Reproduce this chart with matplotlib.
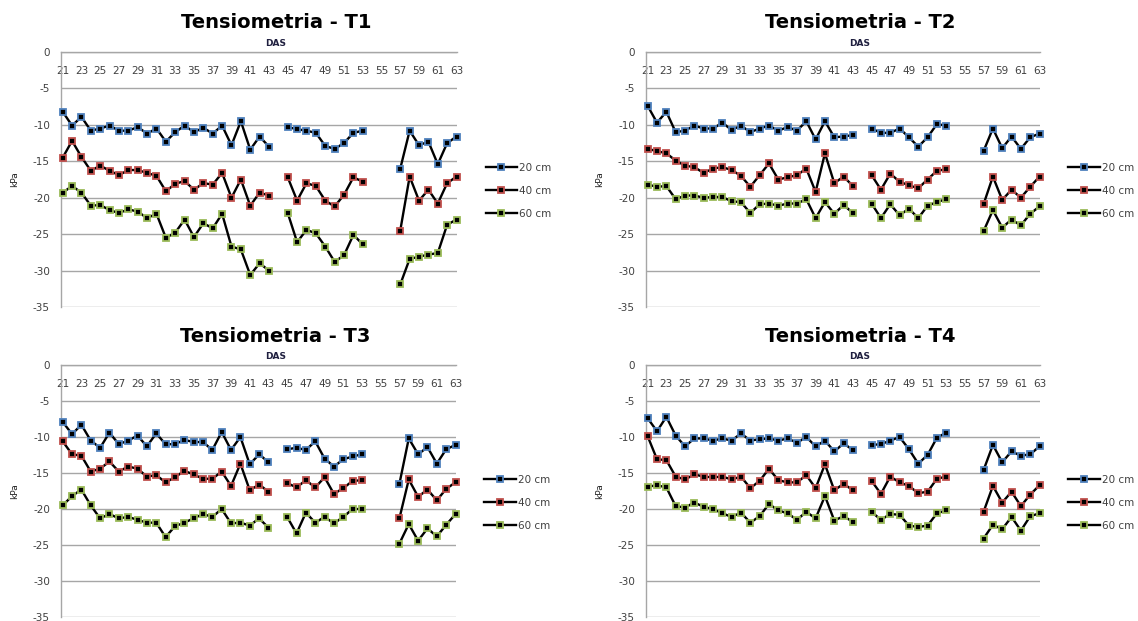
import numpy as np
import matplotlib
matplotlib.use("Agg")
import matplotlib.pyplot as plt

plt.rcParams['axes.unicode_minus'] = False

nan = np.nan

# DAS 21..63 (missing days as nan)
days = list(range(21, 64))
depths = ["20 cm", "40 cm", "60 cm"]
colors = ["#4F81BD", "#C0504D", "#9BBB59"]

t1_20 = [-8.2, -10.1, -8.9, -10.8, -10.5, -10.1, -10.8, -10.8, -10.3, -11.2, -10.5, -12.3,
         -11.0, -10.1, -11.0, -10.4, -11.2, -10.1, -12.8, -9.5, -13.4, -11.6, -13.0, nan,
         -10.3, -10.6, -10.8, -11.1, -12.9, -13.3, -12.5, -11.1, -10.8, nan, nan, nan,
         -16.0, -10.8, -12.8, -12.3, -15.4, -12.5, -11.6]
t1_40 = [-14.5, -12.2, -14.4, -16.3, -15.6, -16.3, -16.9, -16.2, -16.2, -16.6, -17.0, -19.1,
         -18.1, -17.7, -18.9, -18.0, -18.2, -16.6, -20.0, -17.5, -21.1, -19.3, -19.7, nan,
         -17.2, -20.4, -18.0, -18.4, -20.4, -21.2, -19.6, -17.2, -17.8, nan, nan, nan,
         -24.5, -17.1, -20.4, -18.9, -20.8, -18.0, -17.1]
t1_60 = [-19.3, -18.4, -19.3, -21.1, -21.0, -21.7, -22.1, -21.6, -21.9, -22.8, -22.2, -25.5,
         -24.8, -23.0, -25.4, -23.5, -24.2, -22.2, -26.7, -27.1, -30.6, -29.0, -30.0, nan,
         -22.1, -26.1, -24.4, -24.9, -26.7, -28.8, -27.9, -25.1, -26.4, nan, nan, nan,
         -31.9, -28.4, -28.1, -27.8, -27.6, -23.7, -23.0]

t2_20 = [-7.4, -9.7, -8.2, -11.0, -10.8, -10.1, -10.5, -10.5, -9.7, -10.7, -10.1, -11.0,
         -10.5, -10.1, -10.8, -10.3, -10.8, -9.5, -12.0, -9.5, -11.7, -11.6, -11.4, nan,
         -10.5, -11.1, -11.1, -10.5, -11.7, -13.0, -11.7, -9.9, -10.1, nan, nan, nan,
         -13.6, -10.5, -13.2, -11.6, -13.3, -11.7, -11.2]
t2_40 = [-13.3, -13.6, -13.9, -14.9, -15.6, -15.8, -16.6, -16.0, -15.8, -16.2, -17.0, -18.5,
         -16.9, -15.3, -17.5, -17.2, -16.9, -16.0, -19.2, -13.9, -18.0, -17.1, -18.4, nan,
         -16.9, -18.9, -16.7, -17.8, -18.3, -18.7, -17.5, -16.3, -16.1, nan, nan, nan,
         -20.9, -17.1, -20.3, -18.9, -20.0, -18.5, -17.1]
t2_60 = [-18.2, -18.5, -18.4, -20.2, -19.7, -19.7, -20.0, -19.9, -19.9, -20.5, -20.6, -22.1,
         -20.9, -20.8, -21.1, -20.8, -20.8, -20.2, -22.8, -20.6, -22.2, -21.0, -22.1, nan,
         -20.8, -22.8, -20.9, -22.4, -21.5, -22.8, -21.1, -20.6, -20.2, nan, nan, nan,
         -24.6, -21.7, -24.1, -23.0, -23.8, -22.2, -21.2]

t3_20 = [-7.9, -9.6, -8.3, -10.5, -11.5, -9.4, -11.0, -10.5, -9.8, -11.3, -9.5, -11.0,
         -11.0, -10.4, -10.7, -10.7, -11.8, -9.3, -11.8, -10.0, -13.8, -12.4, -13.5, nan,
         -11.7, -11.5, -11.8, -10.6, -13.0, -14.1, -13.1, -12.7, -12.4, nan, nan, nan,
         -16.5, -10.2, -12.4, -11.4, -13.7, -11.7, -11.1]
t3_40 = [-10.6, -12.4, -12.6, -14.8, -14.4, -13.4, -14.8, -14.1, -14.4, -15.5, -15.3, -16.3,
         -15.6, -14.7, -15.2, -15.8, -15.8, -14.8, -16.8, -13.7, -17.4, -16.6, -17.6, nan,
         -16.4, -17.0, -16.0, -17.0, -15.6, -17.9, -17.1, -16.1, -16.0, nan, nan, nan,
         -21.3, -15.9, -18.3, -17.3, -18.8, -17.2, -16.3]
t3_60 = [-19.5, -18.2, -17.3, -19.5, -21.3, -20.7, -21.3, -21.1, -21.5, -21.9, -21.9, -23.9,
         -22.4, -21.9, -21.3, -20.7, -21.1, -20.0, -22.0, -21.9, -22.3, -21.3, -22.6, nan,
         -21.1, -23.4, -20.5, -21.9, -21.1, -22.0, -21.1, -20.0, -20.0, nan, nan, nan,
         -24.8, -22.1, -24.4, -22.7, -23.8, -22.2, -20.7]

t4_20 = [-7.4, -9.2, -7.2, -9.8, -11.3, -10.2, -10.2, -10.5, -10.2, -10.5, -9.5, -10.5,
         -10.3, -10.2, -10.5, -10.2, -10.8, -10.0, -11.3, -10.5, -12.0, -10.9, -11.8, nan,
         -11.1, -11.0, -10.5, -10.0, -11.7, -13.7, -12.5, -10.1, -9.4, nan, nan, nan,
         -14.6, -11.1, -13.5, -12.0, -12.6, -12.4, -11.3]
t4_40 = [-9.9, -13.1, -13.2, -15.5, -15.9, -15.2, -15.5, -15.6, -15.5, -15.9, -15.5, -17.1,
         -16.1, -14.4, -16.0, -16.3, -16.3, -15.3, -17.1, -13.8, -17.4, -16.5, -17.4, nan,
         -16.1, -17.9, -15.5, -16.3, -16.8, -17.8, -17.6, -15.8, -15.5, nan, nan, nan,
         -20.4, -16.8, -19.1, -17.6, -19.6, -18.0, -16.7]
t4_60 = [-16.9, -16.7, -17.0, -19.6, -19.8, -19.1, -19.7, -20.0, -20.6, -21.1, -20.5, -21.9,
         -21.0, -19.3, -20.2, -20.6, -21.5, -20.4, -21.3, -18.2, -21.6, -21.0, -21.8, nan,
         -20.4, -21.5, -20.7, -20.8, -22.3, -22.5, -22.3, -20.6, -20.2, nan, nan, nan,
         -24.1, -22.2, -22.8, -21.1, -23.0, -21.0, -20.6]

titles = ["Tensiometria - T1", "Tensiometria - T2", "Tensiometria - T3", "Tensiometria - T4"]
panels = [[t1_20, t1_40, t1_60], [t2_20, t2_40, t2_60],
          [t3_20, t3_40, t3_60], [t4_20, t4_40, t4_60]]

# axes boxes in pixels: left, right, top, bottom
W, H = 1138, 621
boxes = [(61, 457, 52, 307), (646, 1040, 52, 307),
         (61, 456, 365, 617), (646, 1040, 365, 617)]

fig = plt.figure(figsize=(W / 100, H / 100), dpi=100)
grid_c = '#A6A6A6'
txt_c = '#404040'

for (l, r, t, b), title, series in zip(boxes, titles, panels):
    ax = fig.add_axes([l / W, 1 - b / H, (r - l) / W, (b - t) / H])
    for vals, lab, c in zip(series, depths, colors):
        ax.plot(days, vals, color='black', lw=1.7, marker='s', ms=5,
                mfc='black', mec=c, mew=1.3, label=lab, clip_on=False, zorder=3)

    ax.set_xlim(20.82, 63.05)
    ax.set_ylim(-35, 0)
    ax.set_yticks(range(-35, 1, 5))
    ax.set_xticks(days[::2])
    ax.xaxis.set_ticks_position('top')
    ax.tick_params(axis='x', length=0, pad=-17, labelsize=7.5, labelcolor=txt_c)
    ax.tick_params(axis='y', length=0, pad=8, labelsize=7.5, labelcolor=txt_c)
    ax.grid(axis='y', color=grid_c, lw=1)
    ax.set_axisbelow(True)
    for s in ['right', 'bottom']:
        ax.spines[s].set_visible(False)
    for s in ['left', 'top']:
        ax.spines[s].set_color(grid_c)
        ax.spines[s].set_linewidth(1)

    ax.set_ylabel("kPa", fontsize=6.5, color='#222222', labelpad=10)
    ax.text(0.543, 1.035, "DAS", transform=ax.transAxes, ha='center', va='center',
            fontsize=6.5, fontweight='bold', color='#1F1F3F')
    ax.text(0.543, 1.115, title, transform=ax.transAxes, ha='center', va='center',
            fontsize=14, fontweight='bold', color='black')

    ax.legend(loc='upper left', bbox_to_anchor=(1.072, 0.565), frameon=False,
              fontsize=7.5, handlelength=3.0, handletextpad=0.2, labelspacing=1.25,
              borderpad=0, borderaxespad=0, numpoints=1, labelcolor=txt_c)

plt.savefig("out.png", dpi=100)
